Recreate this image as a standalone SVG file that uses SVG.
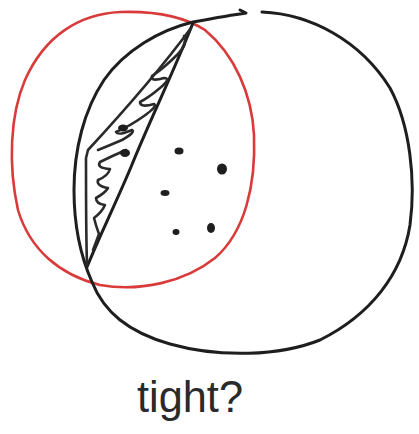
<svg xmlns="http://www.w3.org/2000/svg" width="419" height="434" viewBox="0 0 419 434">
<style>
.ink{fill:none;stroke:#1e1e1e;stroke-width:3;stroke-linecap:round;stroke-linejoin:round}
.thin{fill:none;stroke:#2a2a2a;stroke-width:2.6;stroke-linecap:round;stroke-linejoin:round}
.red{fill:none;stroke:#d93a3a;stroke-width:2.6;stroke-linecap:round}
.dot{fill:#1e1e1e}
.lbl{font-family:"Liberation Sans",sans-serif;font-size:44px;fill:#2a2a2a}
</style>
<rect width="419" height="434" fill="#ffffff"/>
<g id="red-circle">
<path class="red" d="M120,12 C80,14 45,35 25,80 C10,115 8,165 18,210 C30,250 60,275 100,285 C140,292 185,282 215,258 C245,232 256,185 254,135 C252,95 235,55 205,30 C180,14 150,11 120,12 Z"/>
</g>
<g id="black-circle">
<path class="ink" d="M262,12 C310,14 360,40 390,88 C410,125 416,180 410,225 C402,275 370,315 320,340 C280,356 220,358 170,344 C128,332 104,312 92,282 C80,255 74,225 74,190 C74,150 84,110 104,80 C125,50 160,30 193,22 C215,18 232,15 246,13 L240,10"/>
</g>
<g id="leaf">
<path class="ink" d="M193,23 C170,80 150,120 131,167 C115,205 100,235 87,267"/>
<path class="thin" d="M191,28 C160,70 125,110 88,150 L86,158 C86,195 86,235 87,265"/>
<path class="thin" d="M184,36 Q188,44 178,54 Q164,68 152,76 Q150,82 164,78 Q172,78 160,88 Q148,98 140,102 Q140,108 154,104 Q158,106 144,116 Q130,126 116,132 Q118,136 132,130 Q136,132 122,140 Q108,146 98,150"/>
<path class="thin" d="M126,150 Q112,156 100,162 Q96,168 110,169 Q108,176 98,180 Q96,186 108,188 Q105,193 96,198 Q96,204 105,205 Q102,212 94,218 Q96,226 99,234 Q96,242 93,250"/>
<ellipse class="dot" cx="125" cy="153" rx="5" ry="4"/>
<ellipse class="dot" cx="123" cy="128" rx="5" ry="3.5"/>
</g>
<g id="dots">
<ellipse class="dot" cx="179" cy="151" rx="4.5" ry="3.5"/>
<ellipse class="dot" cx="222" cy="169" rx="5" ry="5.5"/>
<ellipse class="dot" cx="165" cy="193" rx="4.5" ry="3"/>
<ellipse class="dot" cx="176" cy="232" rx="3.5" ry="3"/>
<ellipse class="dot" cx="211" cy="228" rx="4" ry="5"/>
</g>
<g id="label">
<text class="lbl" x="137" y="412" textLength="106" lengthAdjust="spacingAndGlyphs">tight?</text>
</g>
</svg>
